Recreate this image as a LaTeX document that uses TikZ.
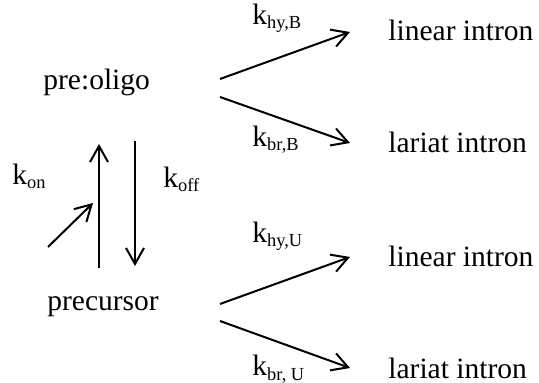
\documentclass[tikz,border=0pt]{standalone}
\usepackage{fontspec}
\setmainfont{Liberation Serif}
\usetikzlibrary{arrows.meta, positioning}

\newcommand{\krate}[1]{k\raisebox{-2pt}{\fontsize{9.2}{11}\selectfont #1}}

\begin{document}
\begin{tikzpicture}[
            x=0.5pt, y=-0.5pt,
            species/.style={anchor=base west, inner sep=0pt, font=\fontsize{14.75}{18}\selectfont},
            rate/.style={anchor=base west, inner sep=0pt, font=\fontsize{14.75}{18}\selectfont},
            line/.style={draw, line width=1pt, -{Straight Barb[length=8pt, width=9pt]}}
        ]
        \useasboundingbox (0,0) rectangle (539,383);

        % --- Species ---
        \node[species] (oligo) at (43,90) {pre:oligo};
        \node[species] (prec) at (47,311) {precursor};
        \node[species] (linB) at (388,41) {linear intron};
        \node[species] (larB) at (388,153) {lariat intron};
        \node[species] (linU) at (388,267) {linear intron};
        \node[species] (larU) at (388,379) {lariat intron};

        % --- Rate constants ---
        \node[rate] (kon) at (12,185) {\krate{on}};
        \node[rate] (koff) at (163,188) {\krate{off}};
        \node[rate] (khyB) at (252,25) {\krate{hy,B}};
        \node[rate] (kbrB) at (252,147) {\krate{br,B}};
        \node[rate] (khyU) at (252,243) {\krate{hy,U}};
        \node[rate] (kbrU) at (252,376) {\krate{br, U}};

        % --- Arrow ends ---
        \coordinate (oligo_hy) at (220,79);
        \coordinate (oligo_br) at (220,97);
        \coordinate (prec_hy) at (220,304);
        \coordinate (prec_br) at (220,321);
        \coordinate (linB_in) at (350,32);
        \coordinate (larB_in) at (350,143);
        \coordinate (linU_in) at (350,257);
        \coordinate (larU_in) at (350,368);
        \coordinate (on_bot) at (99,268);
        \coordinate (on_top) at (99,144);
        \coordinate (off_top) at (135,141);
        \coordinate (off_bot) at (135,266);
        \coordinate (oligo_src) at (48,247);
        \coordinate (oligo_join) at (93,203);

        % --- Binding equilibrium ---
        \draw[line] (on_bot) -- (on_top);
        \draw[line] (oligo_src) -- (oligo_join);
        \draw[line] (off_top) -- (off_bot);

        % --- Splicing branches ---
        \draw[line] (oligo_hy) -- (linB_in);
        \draw[line] (oligo_br) -- (larB_in);
        \draw[line] (prec_hy) -- (linU_in);
        \draw[line] (prec_br) -- (larU_in);

\end{tikzpicture}
\end{document}
